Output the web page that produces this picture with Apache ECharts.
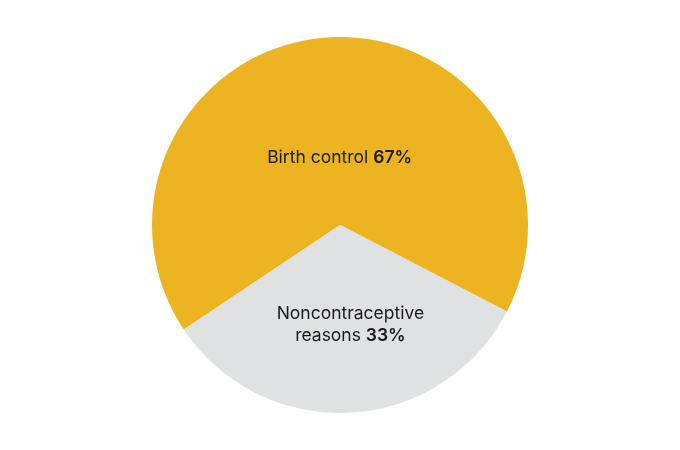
<!DOCTYPE html>
<html><head><meta charset="utf-8">
<script src="https://cdn.jsdelivr.net/npm/echarts@6/dist/echarts.min.js"></script>
<style>html,body{margin:0;padding:0;background:#fff}#c{width:680px;height:450px}</style>
</head><body><div id="c"></div>
<script>
const categories = ["Birth control", "Noncontraceptive\nreasons"];
const values = [67, 33];
const colors = ["#ECB421", "#E0E1E3"];
const chart = echarts.init(document.getElementById('c'));
chart.setOption({
  animation: false,
  series: [{
    type: 'pie',
    center: [340, 225],
    radius: [0, 188],
    startAngle: 213.8,
    clockwise: true,
    silent: true,
    data: categories.map((n, i) => ({ name: n, value: values[i], itemStyle: { color: colors[i] } })),
    label: {
      position: 'inside',
      formatter: p => p.name + ' {b|' + p.value + '%}',
      color: '#1a1a1a',
      fontFamily: 'Inter',
      fontSize: 17.5,
      lineHeight: 22,
      align: 'center',
      rich: { b: { fontWeight: 600, fontFamily: 'Inter', fontSize: 17.5, lineHeight: 22, color: '#1a1a1a' } }
    },
    labelLine: { show: false },
    labelLayout: p => p.dataIndex === 0 ? { dx: 5, dy: 30 } : { dx: 5, dy: 3 }
  }]
});
</script></body></html>
